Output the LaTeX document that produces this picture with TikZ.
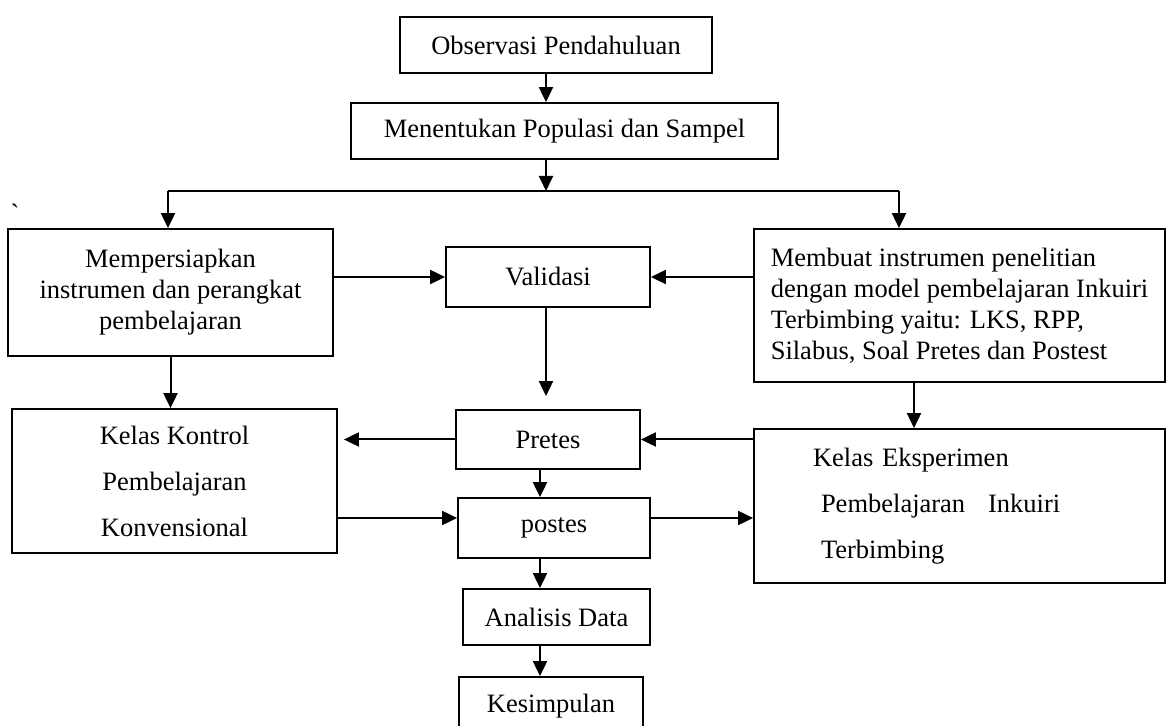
\documentclass[tikz,border=0pt]{standalone}
\usepackage{fontspec}
\setmainfont{Liberation Serif}
\usetikzlibrary{arrows.meta}
\tikzset{
  box/.style={draw, line width=0.9pt, inner sep=2pt, align=center,
    font=\fontsize{13.25}{15.5}\selectfont},
  wide/.style={font=\fontsize{13.25}{23}\selectfont},
  arr/.style={-{Triangle[length=7.5pt,width=7pt]}, line width=1pt},
}
\begin{document}
\begin{tikzpicture}[x=0.5pt, y=-0.5pt]
      \useasboundingbox (0,0) rectangle (1168,726);
      \draw
        (556,45) node[box, minimum width=156pt, minimum height=28pt] (obs) {Observasi Pendahuluan}
        (564.5,131) node[box, minimum width=213.5pt, minimum height=28pt] (pop) {Menentukan Populasi dan Sampel}
        (170.5,292.5) node[box, minimum width=162.5pt, minimum height=63.5pt] (siap) {Mempersiapkan\\instrumen dan perangkat\\pembelajaran}
        (548,277) node[box, minimum width=102pt, minimum height=30pt] (valid) {Validasi}
        (959.5,305.5) node[box, align=left, minimum width=205.5pt, minimum height=76.5pt] (buat) {Membuat instrumen penelitian\\dengan model pembelajaran Inkuiri\\Terbimbing yaitu: LKS, RPP,\\Silabus, Soal Pretes dan Postest}
        (174.5,481) node[box, wide, minimum width=162.5pt, minimum height=72pt] (kontrol) {Kelas Kontrol\\Pembelajaran\\Konvensional}
        (548,439.5) node[box, minimum width=92pt, minimum height=29.5pt] (pretes) {Pretes}
        (959.5,506) node[box, wide, align=left, text width=146.5pt, inner xsep=29.5pt, minimum height=77pt] (eksp) {Kelas Eksperimen\\\hspace*{4pt}Pembelajaran\hspace{7pt} Inkuiri\\\hspace*{4pt}Terbimbing}
        (554,528) node[box, minimum width=96pt, minimum height=30pt] (postes) {postes}
        (556.5,617) node[box, minimum width=93.5pt, minimum height=28pt] (ana) {Analisis Data}
        (551,706) node[box, minimum width=92pt, minimum height=29pt] (kes) {Kesimpulan}
        (15,213) node[font=\fontsize{13.25}{15.5}\selectfont] (tick) {\textasciigrave};
      \coordinate (spine) at (546,0);
      \coordinate (low) at (540,0);
      \coordinate (bx) at (914,0);
      \coordinate (bl) at (168,191);
      \coordinate (bm) at (546,191);
      \coordinate (br) at (899,191);
      \coordinate (midl) at ([yshift=5pt]postes.west);
      \coordinate (midr) at ([yshift=5pt]postes.east);
      \draw[line width=1pt] (bl) -- (br);
      \begin{scope}[arr]
        \draw (obs.south -| spine) -- (pop.north -| spine);
        \draw (pop.south -| spine) -- (bm);
        \draw (bl) -- (bl |- siap.north);
        \draw (br) -- (br |- buat.north);
        \draw (siap.east |- valid.west) -- (valid.west);
        \draw (buat.west |- valid.east) -- (valid.east);
        \draw[shorten >=6.5pt] (valid.south -| spine) -- (pretes.north -| spine);
        \draw (siap.south) -- (siap.south |- kontrol.north);
        \draw (buat.south -| bx) -- (eksp.north -| bx);
        \draw[shorten >=3pt] (pretes.west) -- (pretes.west -| kontrol.east);
        \draw (eksp.west |- pretes.east) -- (pretes.east);
        \draw (pretes.south -| low) -- (postes.north -| low);
        \draw (kontrol.east |- midl) -- (midl);
        \draw (midr) -- (midr -| eksp.west);
        \draw (postes.south -| low) -- (ana.north -| low);
        \draw (ana.south -| low) -- (kes.north -| low);
      \end{scope}
    \end{tikzpicture}
\end{document}
